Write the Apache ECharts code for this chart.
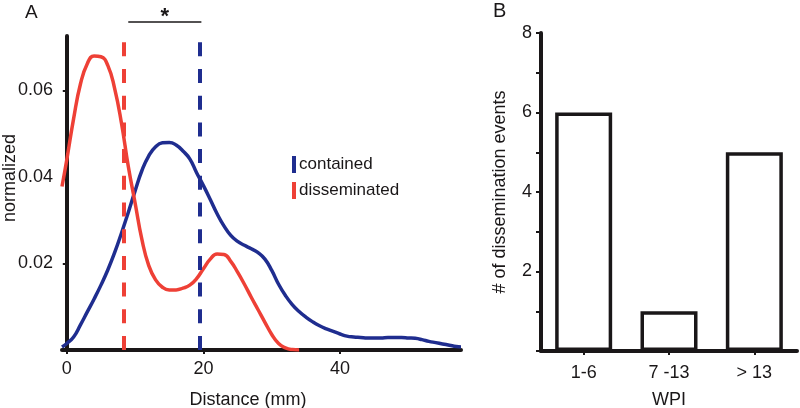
<!DOCTYPE html>
<html>
<head>
<meta charset="utf-8">
<script src="https://cdn.jsdelivr.net/npm/echarts@6/dist/echarts.min.js"></script>
<style>
  html, body { margin: 0; background: #fff; }
  #main { width: 800px; height: 408px; }
</style>
</head>
<body>
<div id="main"></div>
<script>
// panel A: density of distance (mm)
const contained = [
  [-0.7, 0.0007], [0, 0.0015], [1, 0.003], [2, 0.0058], [3, 0.0088], [4, 0.0118],
  [5, 0.015], [6, 0.0185], [7, 0.0225], [8, 0.027], [9, 0.0318], [10, 0.0368],
  [11, 0.0415], [12, 0.0449], [13, 0.047], [14, 0.0479], [15, 0.048], [16, 0.0474],
  [17, 0.046], [18, 0.0442], [19, 0.041], [20, 0.038], [21, 0.0348], [22, 0.0315],
  [23, 0.0287], [24, 0.0265], [25, 0.0251], [26, 0.0242], [27, 0.0234], [28, 0.0225],
  [29, 0.021], [30, 0.0184], [31, 0.0152], [32, 0.0126], [33, 0.0105], [34, 0.0089],
  [35, 0.0076], [36, 0.0065], [37, 0.0056], [38, 0.0049], [39, 0.0043], [40, 0.0037],
  [41, 0.0032], [42, 0.003], [43, 0.0029], [44, 0.0028], [45, 0.0028], [46, 0.0028],
  [47, 0.0029], [48, 0.0029], [49, 0.0029], [50, 0.0028], [51, 0.0027], [52, 0.0024],
  [53, 0.002], [54, 0.0017], [55, 0.0014], [56, 0.0011], [57, 0.0008], [57.7, 0.0007]
]
const disseminated = [
  [-0.7, 0.0378], [0, 0.044], [1, 0.0535], [2, 0.0615], [3, 0.0662], [4, 0.068],
  [5, 0.0678], [6, 0.0658], [7, 0.0605], [8, 0.0525], [9, 0.0425], [10, 0.034],
  [11, 0.0255], [12, 0.0195], [13, 0.0162], [14, 0.0145], [15, 0.0139], [16, 0.0139],
  [17, 0.0143], [18, 0.015], [19, 0.0165], [20, 0.0188], [21, 0.021], [22, 0.0222],
  [23, 0.0221], [24, 0.0205], [25, 0.018], [26, 0.0152], [27, 0.0122], [28, 0.0093],
  [29, 0.0064], [30, 0.0036], [31, 0.0015], [32, 0.0005], [33, 0.0001], [34, 0]
]
const medianContained = 19.4
const medianDisseminated = 8.3
const bracket = [9.0, 19.7]
const distTicks = [0, 20, 40]
const normTicks = [0.02, 0.04, 0.06]

// panel B
const wpiCats = ['1-6', '7 -13', '> 13']
const wpiEvents = [6, 1, 5]
const eventTicks = [2, 4, 6, 8]

const BLUE = '#1f2d8f'
const RED = '#ee4036'
const INK = '#1a1718'
const FONT = 'Liberation Sans, Arial, Helvetica, sans-serif'

const chart = echarts.init(document.getElementById('main'))

const axisLine = { show: true, lineStyle: { color: INK, width: 4 } }
const txt = { color: INK, fontSize: 18, fontFamily: FONT }

chart.setOption({
  animation: false,
  textStyle: { fontFamily: FONT },
  grid: [
    { left: 62, top: 36, width: 399, height: 314, outerBoundsMode: 'none', containLabel: false },
    { left: 541, top: 33, width: 256, height: 318, outerBoundsMode: 'none', containLabel: false }
  ],
  legend: {
    orient: 'vertical',
    left: 287,
    top: 151,
    icon: 'rect',
    itemWidth: 4,
    itemHeight: 17,
    itemGap: 9,
    textStyle: { ...txt, fontSize: 17, padding: [0, 0, 0, -2] },
    data: ['contained', 'disseminated']
  },
  xAxis: [
    {
      gridIndex: 0, type: 'value', min: -0.7, max: 57.7,
      splitLine: { show: false },
      axisLine,
      axisTick: { show: true, customValues: distTicks, length: 4, lineStyle: { color: INK, width: 2 } },
      axisLabel: { customValues: distTicks, margin: 10, ...txt },
      name: 'Distance (mm)', nameLocation: 'middle', nameGap: 41,
      nameTextStyle: { ...txt, padding: [0, 27, 0, 0] }
    },
    {
      gridIndex: 1, type: 'category', data: wpiCats,
      axisLine,
      axisTick: { show: true, alignWithLabel: true, length: 4, lineStyle: { color: INK, width: 2 } },
      axisLabel: { margin: 13, ...txt },
      name: 'WPI', nameLocation: 'middle', nameGap: 40, nameTextStyle: txt
    }
  ],
  yAxis: [
    {
      gridIndex: 0, type: 'value', min: 0, max: 0.0726,
      splitLine: { show: false },
      axisLine,
      axisTick: { show: true, customValues: normTicks, length: 4, lineStyle: { color: INK, width: 2 } },
      axisLabel: { customValues: normTicks, margin: 9, formatter: v => v.toFixed(2), ...txt }
    },
    {
      gridIndex: 1, type: 'value', min: 0, max: 8, interval: 1,
      splitLine: { show: false },
      axisLine,
      axisTick: { show: true, length: 5, lineStyle: { color: INK, width: 2 } },
      axisLabel: { customValues: eventTicks, margin: 9, ...txt },
      name: '# of dissemination events', nameLocation: 'middle', nameGap: 32, nameTextStyle: txt
    }
  ],
  series: [
    {
      name: 'contained', type: 'line', xAxisIndex: 0, yAxisIndex: 0,
      data: contained, smooth: true, symbol: 'none',
      color: BLUE, lineStyle: { color: BLUE, width: 3.5 },
      markLine: {
        silent: true, symbol: 'none', label: { show: false },
        lineStyle: { color: BLUE, width: 4, type: [14, 12.7] },
        data: [[{ coord: [medianContained, 0] }, { coord: [medianContained, 0.0712] }]]
      }
    },
    {
      name: 'disseminated', type: 'line', xAxisIndex: 0, yAxisIndex: 0,
      data: disseminated, smooth: true, symbol: 'none',
      color: RED, lineStyle: { color: RED, width: 3.5 },
      markLine: {
        silent: true, symbol: 'none', label: { show: false },
        lineStyle: { color: RED, width: 4, type: [14, 12.7] },
        data: [[{ coord: [medianDisseminated, 0] }, { coord: [medianDisseminated, 0.0712] }]]
      }
    },
    {
      name: 'events', type: 'bar', xAxisIndex: 1, yAxisIndex: 1,
      data: wpiEvents, barWidth: 57,
      itemStyle: { color: '#fff', borderColor: INK, borderWidth: 3.5 }
    }
  ]
})

// significance bracket between the two medians, y title, panel letters
const p0 = chart.convertToPixel({ gridIndex: 0 }, [bracket[0], 0])
const p1 = chart.convertToPixel({ gridIndex: 0 }, [bracket[1], 0])
chart.setOption({
  graphic: [
    { type: 'line', shape: { x1: p0[0], y1: 22, x2: p1[0], y2: 22 }, style: { stroke: INK, lineWidth: 1.5 } },
    { type: 'text', x: (p0[0] + p1[0]) / 2, y: 6, style: { text: '*', fill: INK, font: 'bold 22px ' + FONT, textAlign: 'center' } },
    {
      type: 'text', x: 10, y: 178, rotation: Math.PI / 2,
      style: { text: 'normalized', fill: INK, font: '18px ' + FONT, textAlign: 'center', textVerticalAlign: 'middle' }
    },
    { type: 'text', x: 25, y: 3, style: { text: 'A', fill: INK, font: '19px ' + FONT } },
    { type: 'text', x: 493, y: 1, style: { text: 'B', fill: INK, font: '20px ' + FONT } }
  ]
})
</script>
</body>
</html>
